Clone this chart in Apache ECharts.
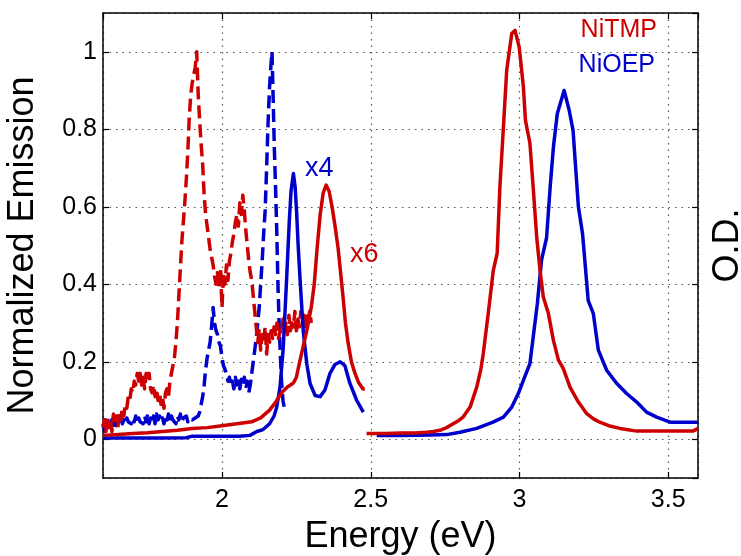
<!DOCTYPE html>
<html>
<head>
<meta charset="utf-8">
<title>NiTMP / NiOEP emission and absorption</title>
<script src="https://cdn.jsdelivr.net/npm/echarts@6/dist/echarts.min.js"></script>
<style>
  html, body { margin: 0; padding: 0; background: #fff; }
  #chart { width: 741px; height: 556px; }
</style>
</head>
<body>
<div id="chart"></div>
<script>
// NiTMP emission (dashed)
var tmpDashE = [1.600, 1.605, 1.610, 1.615, 1.620, 1.625, 1.630, 1.635, 1.640, 1.645, 1.650, 1.655, 1.660, 1.665, 1.670, 1.675, 1.680, 1.685, 1.690, 1.695,
  1.700, 1.705, 1.710, 1.715, 1.720, 1.725, 1.730, 1.735, 1.740, 1.745, 1.750, 1.755, 1.760, 1.765, 1.770, 1.775, 1.780, 1.785, 1.790, 1.795,
  1.800, 1.805, 1.810, 1.815, 1.820, 1.825, 1.830, 1.835, 1.840, 1.845, 1.850, 1.855, 1.860, 1.865, 1.870, 1.875, 1.880, 1.885, 1.890, 1.895,
  1.900, 1.905, 1.910, 1.915, 1.920, 1.925, 1.930, 1.935, 1.940, 1.945, 1.950, 1.955, 1.960, 1.965, 1.970, 1.975, 1.980, 1.985, 1.990, 1.995,
  2.000, 2.005, 2.010, 2.015, 2.020, 2.025, 2.030, 2.035, 2.040, 2.045, 2.050, 2.055, 2.060, 2.065, 2.070, 2.075, 2.080, 2.085, 2.090, 2.095,
  2.100, 2.105, 2.110, 2.115, 2.120, 2.125, 2.130, 2.135, 2.140, 2.145, 2.150, 2.155, 2.160, 2.165, 2.170, 2.175, 2.180, 2.185, 2.190, 2.195,
  2.200, 2.205, 2.210, 2.215, 2.220, 2.225, 2.230, 2.235, 2.240, 2.245, 2.250, 2.255, 2.260, 2.265, 2.270, 2.275, 2.280, 2.285, 2.290, 2.295, 2.300]
var tmpDashV = [0.03, 0.05, 0.02, 0.06, 0.03, 0.05, 0.02, 0.065, 0.04, 0.06, 0.03, 0.07, 0.05, 0.08, 0.06, 0.09, 0.08, 0.11, 0.10, 0.13,
  0.12, 0.15, 0.14, 0.17, 0.15, 0.17, 0.14, 0.16, 0.13, 0.17, 0.15, 0.17, 0.13, 0.12, 0.14, 0.11, 0.13, 0.10, 0.12, 0.09,
  0.11, 0.08, 0.12, 0.13, 0.11, 0.15, 0.17, 0.19, 0.21, 0.25, 0.30, 0.37, 0.44, 0.51, 0.56, 0.61, 0.67, 0.74, 0.83, 0.89,
  0.92, 0.94, 0.96, 1.00, 0.89, 0.82, 0.76, 0.71, 0.63, 0.58, 0.55, 0.52, 0.49, 0.47, 0.45, 0.42, 0.40, 0.43, 0.39, 0.44,
  0.34, 0.43, 0.40, 0.45, 0.41, 0.46, 0.48, 0.51, 0.53, 0.56, 0.58, 0.55, 0.61, 0.58, 0.63, 0.59, 0.54, 0.50, 0.46, 0.43,
  0.41, 0.37, 0.33, 0.29, 0.25, 0.28, 0.23, 0.27, 0.25, 0.29, 0.22, 0.27, 0.25, 0.28, 0.26, 0.29, 0.27, 0.30, 0.26, 0.28,
  0.27, 0.31, 0.28, 0.30, 0.27, 0.32, 0.28, 0.30, 0.29, 0.33, 0.28, 0.31, 0.29, 0.33, 0.30, 0.32, 0.29, 0.33, 0.31, 0.33, 0.30]

// NiOEP emission (dashed)
var oepDashE = [1.600, 1.605, 1.610, 1.615, 1.620, 1.625, 1.630, 1.635, 1.640, 1.645, 1.650, 1.655, 1.660, 1.665, 1.670, 1.675, 1.680, 1.685, 1.690, 1.695,
  1.700, 1.705, 1.710, 1.715, 1.720, 1.725, 1.730, 1.735, 1.740, 1.745, 1.750, 1.755, 1.760, 1.765, 1.770, 1.775, 1.780, 1.785, 1.790, 1.795,
  1.800, 1.805, 1.810, 1.815, 1.820, 1.825, 1.830, 1.835, 1.840, 1.845, 1.850, 1.855, 1.860, 1.865, 1.870, 1.875, 1.880, 1.885, 1.890, 1.895,
  1.900, 1.910, 1.920, 1.925, 1.930, 1.935, 1.940, 1.945, 1.950, 1.955, 1.960, 1.965, 1.970, 1.975, 1.980, 1.985, 1.990, 1.995,
  2.000, 2.005, 2.010, 2.015, 2.020, 2.025, 2.030, 2.035, 2.040, 2.045, 2.050, 2.055, 2.060, 2.065, 2.070, 2.075, 2.080, 2.085, 2.090, 2.095,
  2.100, 2.105, 2.110, 2.115, 2.120, 2.125, 2.130, 2.135, 2.140, 2.145, 2.150, 2.155, 2.160, 2.165, 2.168, 2.172, 2.176, 2.180, 2.184, 2.188,
  2.192, 2.196, 2.200, 2.205, 2.212]
var oepDashV = [0.04, 0.02, 0.05, 0.03, 0.04, 0.03, 0.05, 0.03, 0.045, 0.035, 0.05, 0.04, 0.055, 0.04, 0.05, 0.04, 0.055, 0.045, 0.05, 0.04,
  0.055, 0.045, 0.06, 0.04, 0.055, 0.045, 0.05, 0.04, 0.06, 0.045, 0.065, 0.04, 0.055, 0.045, 0.06, 0.04, 0.065, 0.05, 0.06, 0.045,
  0.055, 0.04, 0.06, 0.05, 0.065, 0.045, 0.06, 0.05, 0.055, 0.04, 0.06, 0.05, 0.065, 0.045, 0.055, 0.05, 0.06, 0.045, 0.055, 0.05,
  0.05, 0.055, 0.06, 0.07, 0.09, 0.11, 0.14, 0.18, 0.21, 0.23, 0.25, 0.29, 0.34, 0.30, 0.28, 0.27, 0.25, 0.24,
  0.21, 0.19, 0.18, 0.17, 0.15, 0.16, 0.14, 0.15, 0.13, 0.16, 0.14, 0.15, 0.13, 0.155, 0.14, 0.16, 0.13, 0.15, 0.12, 0.14,
  0.17, 0.20, 0.23, 0.26, 0.30, 0.34, 0.40, 0.46, 0.53, 0.59, 0.70, 0.82, 0.91, 0.97, 1.00, 0.88, 0.75, 0.65, 0.54, 0.40,
  0.30, 0.22, 0.15, 0.10, 0.07]

// NiTMP emission x6 (solid)
var tmpSolidE = [1.600, 1.650, 1.700, 1.750, 1.800, 1.850, 1.900, 1.950, 2.000, 2.050, 2.100, 2.130, 2.160, 2.180, 2.200, 2.220, 2.240, 2.250, 2.260, 2.270,
  2.285, 2.300, 2.310, 2.320, 2.330, 2.340, 2.350, 2.360, 2.370, 2.380, 2.390, 2.400, 2.407, 2.415, 2.424, 2.435, 2.447, 2.460, 2.474, 2.480]
var tmpSolidV = [0.010, 0.012, 0.015, 0.017, 0.020, 0.023, 0.028, 0.030, 0.035, 0.040, 0.045, 0.055, 0.075, 0.095, 0.120, 0.135, 0.145, 0.160, 0.196, 0.230,
  0.280, 0.340, 0.400, 0.495, 0.580, 0.635, 0.656, 0.640, 0.600, 0.550, 0.495, 0.420, 0.366, 0.300, 0.248, 0.200, 0.170, 0.145, 0.130, 0.130]

// NiOEP emission x4 (solid)
var oepSolidE = [1.600, 1.700, 1.800, 1.880, 1.900, 2.000, 2.060, 2.094, 2.117, 2.138, 2.160, 2.175, 2.184, 2.195, 2.206, 2.217, 2.226, 2.232, 2.240, 2.246,
  2.251, 2.256, 2.262, 2.273, 2.285, 2.296, 2.313, 2.330, 2.346, 2.363, 2.380, 2.397, 2.413, 2.430, 2.453, 2.475]
var oepSolidV = [0.003, 0.003, 0.003, 0.004, 0.008, 0.008, 0.008, 0.010, 0.020, 0.025, 0.040, 0.060, 0.083, 0.134, 0.238, 0.410, 0.560, 0.640, 0.686, 0.650,
  0.583, 0.500, 0.418, 0.280, 0.195, 0.144, 0.113, 0.110, 0.127, 0.170, 0.193, 0.200, 0.190, 0.144, 0.100, 0.070]

// NiTMP absorption
var tmpAbsE = [2.486, 2.550, 2.600, 2.650, 2.688, 2.710, 2.733, 2.755, 2.777, 2.795, 2.810, 2.834, 2.856, 2.870, 2.878, 2.895, 2.912, 2.925, 2.934, 2.946,
  2.957, 2.974, 2.985, 2.999, 3.013, 3.020, 3.035, 3.046, 3.058, 3.069, 3.080, 3.097, 3.114, 3.131, 3.147, 3.170, 3.198, 3.226, 3.250, 3.270,
  3.300, 3.338, 3.394, 3.450, 3.500, 3.583, 3.600]
var tmpAbsV = [0.015, 0.015, 0.016, 0.016, 0.018, 0.020, 0.023, 0.030, 0.040, 0.048, 0.057, 0.083, 0.134, 0.180, 0.220, 0.325, 0.436, 0.480, 0.650, 0.806,
  0.952, 1.047, 1.055, 1.012, 0.910, 0.823, 0.764, 0.650, 0.520, 0.436, 0.367, 0.325, 0.255, 0.204, 0.183, 0.134, 0.096, 0.066, 0.052, 0.044,
  0.035, 0.028, 0.021, 0.021, 0.021, 0.021, 0.028]

// NiOEP absorption
var oepAbsE = [2.520, 2.600, 2.700, 2.755, 2.800, 2.856, 2.911, 2.946, 2.974, 2.996, 3.013, 3.035, 3.046, 3.060, 3.074, 3.091, 3.103, 3.114, 3.127, 3.150,
  3.167, 3.180, 3.198, 3.212, 3.231, 3.248, 3.265, 3.293, 3.327, 3.360, 3.394, 3.427, 3.461, 3.506, 3.550, 3.600]
var oepAbsV = [0.010, 0.010, 0.011, 0.012, 0.018, 0.028, 0.044, 0.057, 0.083, 0.118, 0.152, 0.195, 0.263, 0.350, 0.462, 0.520, 0.650, 0.754, 0.840, 0.900,
  0.849, 0.797, 0.600, 0.530, 0.358, 0.325, 0.230, 0.178, 0.144, 0.118, 0.096, 0.070, 0.057, 0.044, 0.044, 0.044]

var red = '#cc0000'
var blue = '#0000cc'
var font = '"Liberation Sans", Arial, Helvetica, sans-serif'

function pairs(xs, ys) {
  return xs.map(function (x, i) { return [x, ys[i]] })
}

function line(name, xs, ys, color, dashed) {
  return {
    name: name,
    type: 'line',
    data: pairs(xs, ys),
    showSymbol: false,
    symbol: 'none',
    lineStyle: { color: color, width: 3.5, type: dashed ? [13, 6] : 'solid', join: 'round', cap: 'butt' },
    z: 3
  }
}

var gridLine = { show: true, lineStyle: { color: '#555', width: 1.2, type: [1.5, 5] } }
var boxLine = { show: true, onZero: false, lineStyle: { color: '#000', width: 1.5 } }
var tick = { show: true, inside: true, length: 6, lineStyle: { color: '#000', width: 1.2 } }

var chart = echarts.init(document.getElementById('chart'))
chart.setOption({
  animation: false,
  backgroundColor: '#fff',
  textStyle: { fontFamily: font },
  grid: { left: 103, top: 13, right: 43, bottom: 78, containLabel: false, outerBoundsMode: 'none' },
  xAxis: [
    {
      type: 'value', min: 1.6, max: 3.6, position: 'bottom',
      axisLine: boxLine, axisTick: tick, splitLine: gridLine,
      axisLabel: { color: '#000', fontSize: 25, fontFamily: font, margin: 10, showMinLabel: false, showMaxLabel: false },
      name: 'Energy (eV)', nameLocation: 'middle', nameGap: 41,
      nameTextStyle: { color: '#000', fontSize: 36, fontFamily: font }
    },
    {
      type: 'value', min: 1.6, max: 3.6, position: 'top',
      axisLine: boxLine, axisTick: tick, splitLine: { show: false }, axisLabel: { show: false }
    }
  ],
  yAxis: [
    {
      type: 'value', min: -0.1, max: 1.1, position: 'left',
      axisLine: boxLine, axisTick: tick, splitLine: gridLine,
      axisLabel: { color: '#000', fontSize: 25, fontFamily: font, margin: 6, showMinLabel: false, showMaxLabel: false },
      name: 'Normalized Emission', nameLocation: 'middle', nameGap: 62,
      nameTextStyle: { color: '#000', fontSize: 36, fontFamily: font }
    },
    {
      type: 'value', min: -0.1, max: 1.1, position: 'right',
      axisLine: boxLine, axisTick: tick, splitLine: { show: false }, axisLabel: { show: false },
      name: 'O.D.', nameLocation: 'middle', nameGap: 12,
      nameTextStyle: { color: '#000', fontSize: 36, fontFamily: font }
    }
  ],
  series: [
    line('NiOEP emission', oepDashE, oepDashV, blue, true),
    line('NiTMP emission', tmpDashE, tmpDashV, red, true),
    line('NiOEP emission x4', oepSolidE, oepSolidV, blue, false),
    line('NiTMP emission x6', tmpSolidE, tmpSolidV, red, false),
    line('NiOEP absorption', oepAbsE, oepAbsV, blue, false),
    line('NiTMP absorption', tmpAbsE, tmpAbsV, red, false)
  ],
  graphic: [
    { type: 'text', right: 84, top: 18, style: { text: 'NiTMP', fill: red, font: '25px ' + font } },
    { type: 'text', right: 86, top: 53, style: { text: 'NiOEP', fill: blue, font: '25px ' + font } },
    { type: 'text', left: 305, top: 155, style: { text: 'x4', fill: blue, font: '27px ' + font } },
    { type: 'text', left: 350, top: 241, style: { text: 'x6', fill: red, font: '27px ' + font } }
  ]
})
</script>
</body>
</html>
